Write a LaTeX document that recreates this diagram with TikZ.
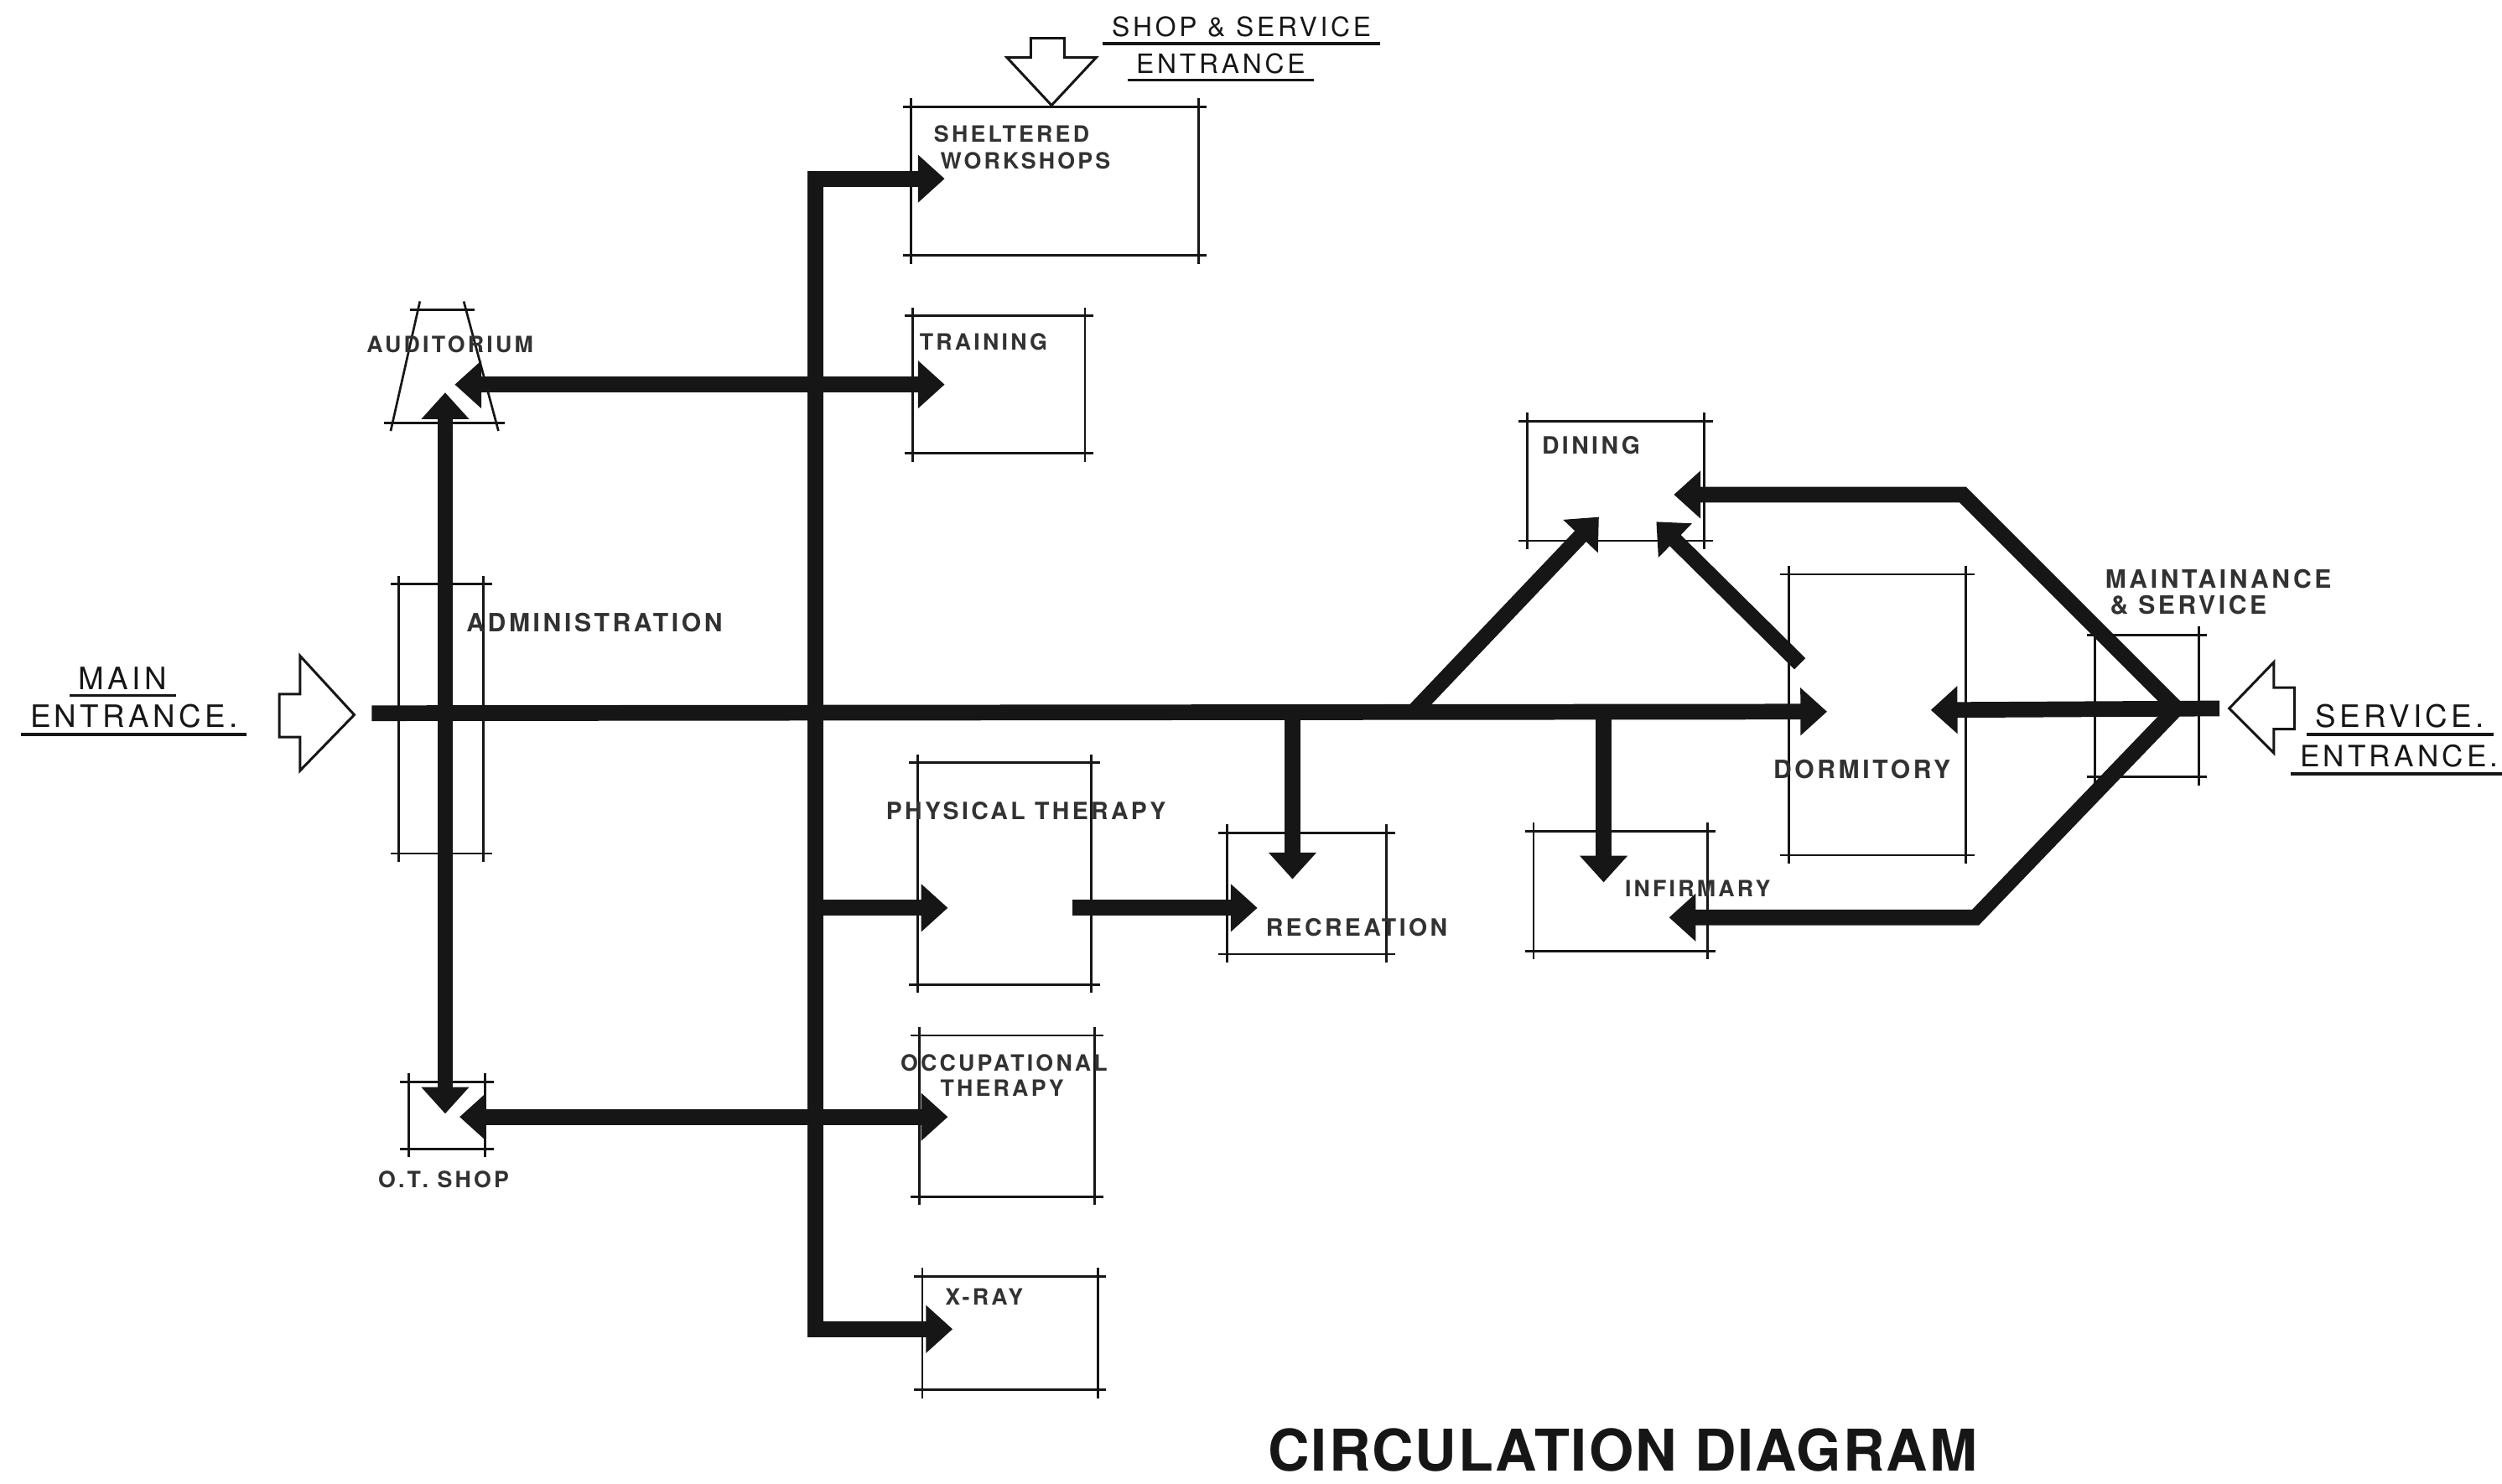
\documentclass[tikz,border=0pt]{standalone}
\usepackage{fontspec}
\usepackage{tikz}
\usetikzlibrary{arrows.meta,fit,positioning}
\newfontfamily\lettering[LetterSpace=12]{TeX Gyre Heros}
\newfontfamily\titlelettering[LetterSpace=3]{TeX Gyre Heros}
\definecolor{InkBlack}{RGB}{22,22,22}
\definecolor{PencilGrey}{RGB}{50,50,50}
\tikzset{
    room/.style={rectangle, draw=none, inner sep=0pt, outer sep=0pt},
    wall/.style={draw=InkBlack, line width=0.8pt,
                 shorten <=-3pt, shorten >=-3pt},
    lbl/.style={font=\lettering\bfseries\fontsize{#1}{#1}\selectfont, text=PencilGrey,
                inner sep=0pt, anchor=west},
    lbl/.default=8,
    heading/.style={font=\lettering\fontsize{#1}{#1}\selectfont, text=InkBlack,
                    inner sep=0pt},
    uline/.style={draw=InkBlack, line width=1pt},
    entry/.style={draw=InkBlack, line width=0.9pt, line join=miter},
    % Corridor styles
    corridor/.style={draw=InkBlack, line width=5.6pt, line join=miter,
                     >={Triangle[length=9.5pt, width=16.5pt]}},
    oneway/.style={corridor, ->},
    twoway/.style={corridor, <->}
}

\begin{document}
\begin{tikzpicture}[x=0.02cm, y=-0.02cm]
    \useasboundingbox (0,0) rectangle (1568,930);

    % Rooms
    \node[room, fit={(571,67) (751,160)}] (shelter) {};
    \node[room, fit={(572,198) (680,284)}] (train) {};
    \node[room, fit={(250,366) (303,535)}] (admin) {};
    \node[room, fit={(575,478) (684,617)}] (physio) {};
    \node[room, fit={(576,649) (686,750)}] (occup) {};
    \node[room, fit={(578,800) (688,871)}] (xray) {};
    \node[room, fit={(256,678) (304,720)}] (otshop) {};
    \node[room, fit={(769,522) (869,598)}] (recre) {};
    \node[room, fit={(957,264) (1068,339)}] (dining) {};
    \node[room, fit={(961,521) (1070,596)}] (infirm) {};
    \node[room, fit={(1121,360) (1232,536)}] (dorm) {};
    \node[room, fit={(1313,398) (1378,487)}] (maint) {};

    % Room outlines with crossed corners
    \foreach \r in {shelter,train,admin,physio,occup,xray,otshop,recre,dining,infirm,dorm,maint} {
        \draw[wall] (\r.north west) -- (\r.north east);
        \draw[wall] (\r.south west) -- (\r.south east);
        \draw[wall] (\r.north west) -- (\r.south west);
        \draw[wall] (\r.north east) -- (\r.south east);
    }

    % Auditorium
    \coordinate (audtl) at (262,194);
    \coordinate (audtr) at (292,194);
    \coordinate (audbl) at (246,265);
    \coordinate (audbr) at (311,265);
    \draw[wall] (audtl) -- (audtr);
    \draw[wall] (audbl) -- (audbr);
    \draw[wall] (audtl) -- (audbl);
    \draw[wall] (audtr) -- (audbr);

    % Corridor end points
    \coordinate (mainin) at (233,447);
    \coordinate (dormwin) at (1145,446);
    \coordinate (shelterin) at (592,112);
    \coordinate (trunktop) at (511,112);
    \coordinate (trunkbot) at (511,833);
    \coordinate (xrayin) at (597,833);
    \coordinate (audin) at (285,241);
    \coordinate (trainin) at (592,241);
    \coordinate (otshopin) at (288,700);
    \coordinate (occupin) at (594,700);
    \coordinate (trunkphys) at (511,569);
    \coordinate (physin) at (594,569);
    \coordinate (physout) at (672,569);
    \coordinate (recrein) at (788,569);
    \coordinate (mainrecre) at (810,447);
    \coordinate (recretop) at (810,551);
    \coordinate (mainmed) at (1005,447);
    \coordinate (infirmtop) at (1005,553);
    \coordinate (audup) at (279,246);
    \coordinate (otshopup) at (279,698);
    \coordinate (diagfoot) at (885,447);
    \coordinate (diningsw) at (1002,324);
    \coordinate (dormnw) at (1128,416);
    \coordinate (diningse) at (1038,327);
    \coordinate (servin) at (1391,444);
    \coordinate (dormein) at (1210,445);
    \coordinate (junction) at (1364,444);
    \coordinate (upperbend) at (1230,310);
    \coordinate (diningein) at (1049,310);
    \coordinate (lowerbend) at (1238,575);
    \coordinate (infirmein) at (1046,575);

    % Corridors
    \draw[oneway] (mainin) -- (dormwin);
    \draw[twoway] (shelterin) -- (trunktop) -- (trunkbot) -- (xrayin);
    \draw[twoway] (audin) -- (trainin);
    \draw[twoway] (otshopin) -- (occupin);
    \draw[oneway] (trunkphys) -- (physin);
    \draw[oneway] (physout) -- (recrein);
    \draw[oneway] (mainrecre) -- (recretop);
    \draw[oneway] (mainmed) -- (infirmtop);
    \draw[twoway] (audup) -- (otshopup);
    \draw[oneway] (diagfoot) -- (diningsw);
    \draw[oneway] (dormnw) -- (diningse);
    \draw[oneway] (servin) -- (dormein);
    \draw[oneway] (junction) -- (upperbend) -- (diningein);
    \draw[oneway] (junction) -- (lowerbend) -- (infirmein);

    % Entrances
    \draw[entry] (175,435) -- (188,435) -- (188,411) -- (222,448) -- (188,483)
        -- (188,462) -- (175,462) -- cycle;
    \draw[entry] (646,24) -- (667,24) -- (667,36) -- (687,36) -- (659,66)
        -- (631,36) -- (646,36) -- cycle;
    \draw[entry] (1397,444) -- (1425,415) -- (1425,431) -- (1438,431)
        -- (1438,457) -- (1425,457) -- (1425,472) -- cycle;

    \node[heading=11] (mainA) at (77,425) {MAIN};
    \node[heading=11] (mainB) at (84,449) {ENTRANCE.};
    \node[heading=9.5] (shopA) at (778,17) {SHOP \& SERVICE};
    \node[heading=9.5] (shopB) at (765,40) {ENTRANCE};
    \node[heading=11] (servA) at (1504,449) {SERVICE.};
    \node[heading=10.5, anchor=west] (servB) at (1441,474) {ENTRANCE.};
    \foreach \t in {mainA,mainB,shopA,shopB,servA,servB}
        \draw[uline] ([xshift=-3pt, yshift=-2pt]\t.south west)
            -- ([xshift=3pt, yshift=-2pt]\t.south east);

    % Room labels
    \node[lbl] (shelterA) at (585,84) {SHELTERED};
    \node[lbl] (shelterB) at (589,101) {WORKSHOPS};
    \node[lbl] (trainlbl) at (576,214) {TRAINING};
    \node[lbl, anchor=center] (audlbl) at (282,216) {AUDITORIUM};
    \node[lbl=9] (adminlbl) at (292,390) {ADMINISTRATION};
    \node[lbl=8.5] (physlbl) at (555,508) {PHYSICAL THERAPY};
    \node[lbl=8.5] (recrelbl) at (793,581) {RECREATION};
    \node[lbl] (occupA) at (564,666) {OCCUPATIONAL};
    \node[lbl] (occupB) at (589,682) {THERAPY};
    \node[lbl] (xraylbl) at (592,813) {X-RAY};
    \node[lbl, anchor=center] (otshoplbl) at (278,739) {O.T. SHOP};
    \node[lbl=8.5] (dininglbl) at (966,279) {DINING};
    \node[lbl=9] (dormlbl) at (1111,482) {DORMITORY};
    \node[lbl] (infirmlbl) at (1018,557) {INFIRMARY};
    \node[lbl=9] (maintA) at (1319,363) {MAINTAINANCE};
    \node[lbl=9] (maintB) at (1322,379) {\& SERVICE};

    \node[font=\titlelettering\bfseries\fontsize{20.5}{20.5}\selectfont,
          text=InkBlack] (title) at (1017,909) {CIRCULATION DIAGRAM};
\end{tikzpicture}
\end{document}
